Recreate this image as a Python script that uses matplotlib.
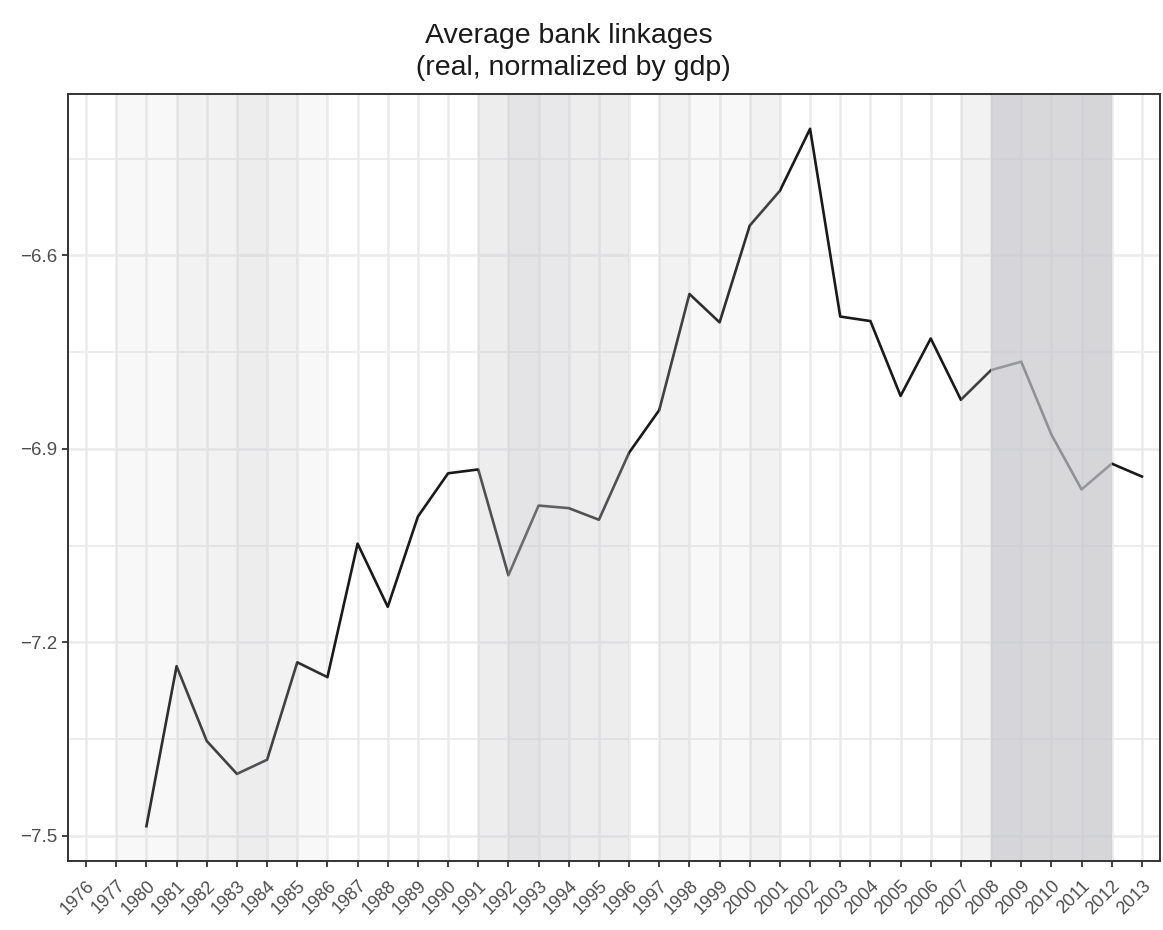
import numpy as np
import matplotlib
matplotlib.use('Agg')
import matplotlib.pyplot as plt
import matplotlib.transforms as mtransforms
from matplotlib.ticker import FixedLocator

plt.rcParams['font.family'] = ['Liberation Sans', 'DejaVu Sans']

# Years on the (categorical) x axis
years = ['1976', '1977', '1980', '1981', '1982', '1983', '1984', '1985', '1986',
         '1987', '1988', '1989', '1990', '1991', '1992', '1993', '1994', '1995',
         '1996', '1997', '1998', '1999', '2000', '2001', '2002', '2003', '2004',
         '2005', '2006', '2007', '2008', '2009', '2010', '2011', '2012', '2013']

# Average bank linkages (log, real, normalized by gdp); no data for 1976/1977
linkage = [np.nan, np.nan, -7.485, -7.237, -7.353, -7.404, -7.382, -7.231, -7.254,
           -7.047, -7.145, -7.005, -6.938, -6.932, -7.096, -6.988, -6.992, -7.010,
           -6.906, -6.840, -6.660, -6.704, -6.554, -6.500, -6.404, -6.695, -6.702,
           -6.818, -6.729, -6.824, -6.778, -6.765, -6.878, -6.963, -6.923, -6.943]

# Number of crisis episodes overlapping each year-to-next-year interval
crisis_count = [0, 1, 1, 2, 2, 3, 2, 1, 0,
                0, 0, 0, 0, 3, 5, 4, 3, 3,
                0, 2, 1, 1, 2, 0, 0, 0, 0,
                0, 0, 2, 10, 9, 9, 10, 0, 0]

y_major = [-7.5, -7.2, -6.9, -6.6]
y_minor = [-7.35, -7.05, -6.75, -6.45]

fig = plt.figure(figsize=(11.63, 9.30), dpi=100)
ax = fig.add_axes([68 / 1163, 69 / 930, 1092 / 1163, 767 / 930])

x = np.arange(len(years))

# line first, crisis shading drawn on top of it (as in the original)
ax.plot(x, linkage, color='#1a1a1a', linewidth=1.9, zorder=2)

for i, n in enumerate(crisis_count):
    for k in range(n):
        ax.axvspan(i, i + 1, facecolor='#cacbcf', alpha=0.12, linewidth=0, zorder=3)

ax.set_xlim(-0.6, len(years) - 0.4)
ax.set_ylim(-7.539, -6.350)

ax.set_xticks(x)
ax.set_xticklabels(years, rotation=45, ha='right', va='top', rotation_mode='anchor')
shift = mtransforms.ScaledTranslation(13 / 100, 0, fig.dpi_scale_trans)
for lab in ax.get_xticklabels():
    lab.set_transform(lab.get_transform() + shift)
ax.set_yticks(y_major)
ax.yaxis.set_minor_locator(FixedLocator(y_minor))

ax.set_axisbelow(True)
ax.grid(True, which='major', color='#ebebeb', linewidth=1.8)
ax.grid(True, which='minor', axis='y', color='#ebebeb', linewidth=1.3)

for s in ax.spines.values():
    s.set_color('#333333')
    s.set_linewidth(1.4)
    s.set_zorder(5)

ax.tick_params(axis='both', which='major', length=4.5, width=1.3, color='#333333',
               labelcolor='#4d4d4d')
ax.tick_params(axis='y', which='major', labelsize=13.5, pad=3)
ax.tick_params(axis='x', which='major', labelsize=13, pad=7)
ax.tick_params(axis='y', which='minor', length=0)

fig.text(569 / 1163, 1 - 52 / 930, 'Average bank linkages\n (real, normalized by gdp)',
         ha='center', va='center', fontsize=20.5, color='#1a1a1a', linespacing=1.3)

fig.savefig('out.png', dpi=100)
